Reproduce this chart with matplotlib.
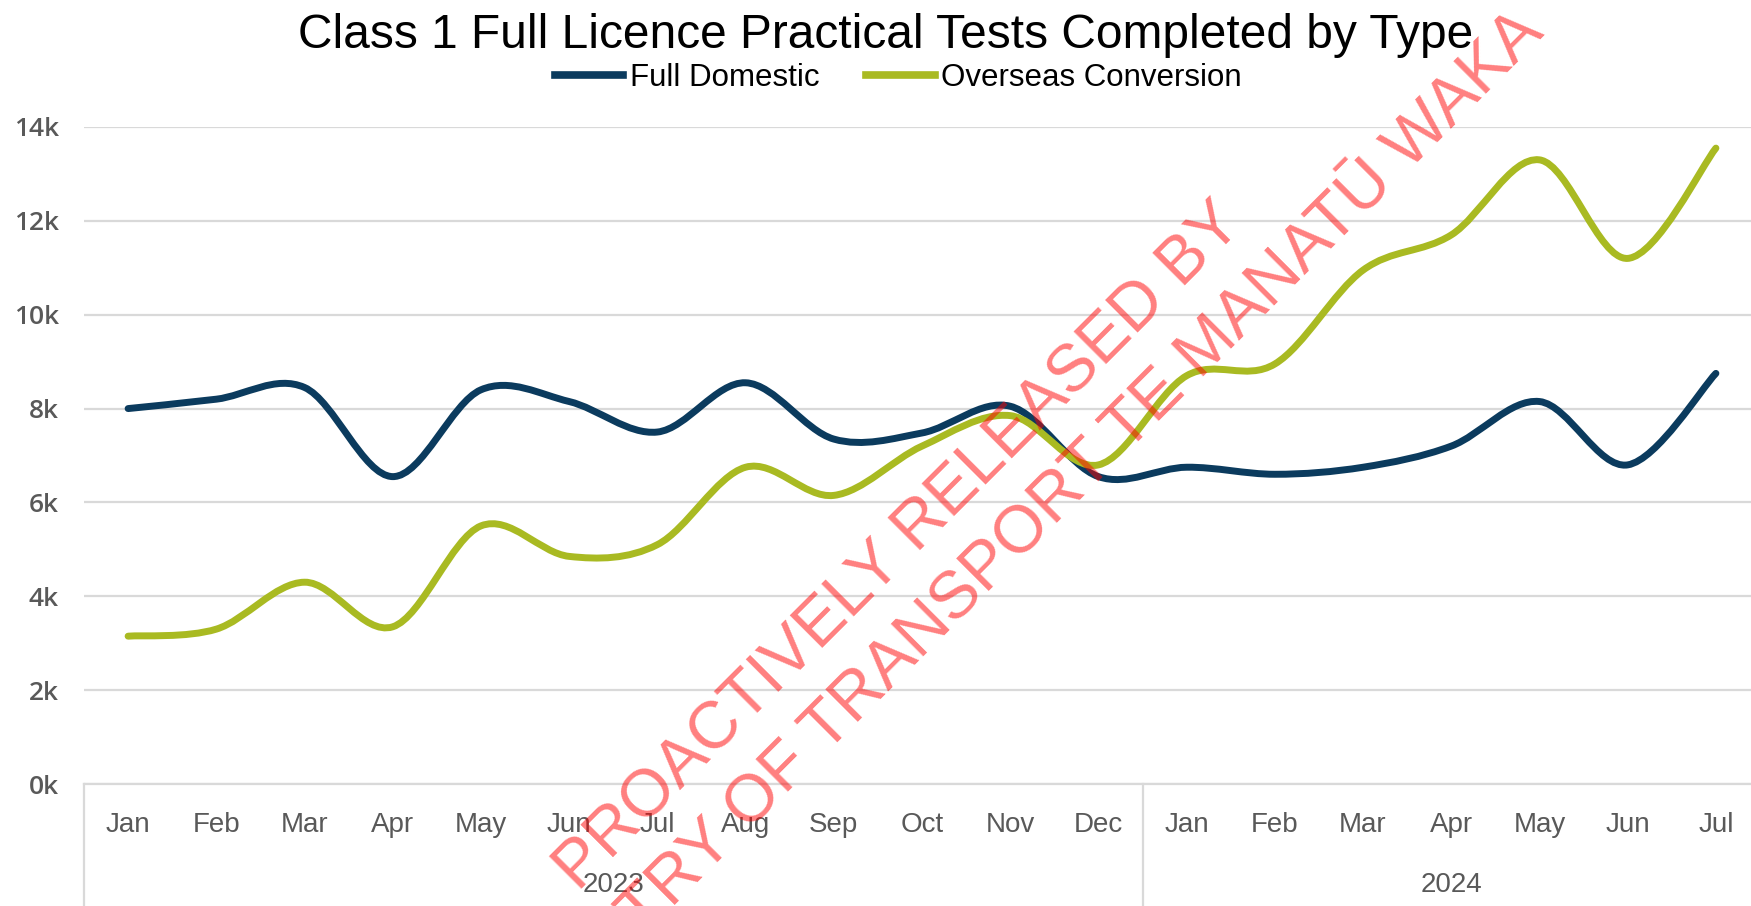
import numpy as np
import matplotlib
matplotlib.use("Agg")
import matplotlib.pyplot as plt
from matplotlib.path import Path
from matplotlib.patches import PathPatch
from matplotlib.lines import Line2D
import matplotlib.transforms as mtransforms

months = ["Jan", "Feb", "Mar", "Apr", "May", "Jun", "Jul", "Aug", "Sep", "Oct", "Nov", "Dec",
          "Jan", "Feb", "Mar", "Apr", "May", "Jun", "Jul"]
years = ["2023", "2024"]
year_spans = [(0, 11), (12, 18)]

full_domestic = [8000, 8200, 8450, 6550, 8400, 8150, 7500, 8550, 7350, 7480, 8050, 6550,
                 6750, 6600, 6750, 7200, 8150, 6800, 8750]
overseas_conversion = [3150, 3300, 4300, 3350, 5500, 4850, 5100, 6750, 6150, 7200, 7850, 6800,
                       8700, 8950, 10950, 11700, 13300, 11200, 13550]

y_ticks = [0, 2000, 4000, 6000, 8000, 10000, 12000, 14000]
y_labels = ["0k", "2k", "4k", "6k", "8k", "10k", "12k", "14k"]

NAVY = "#0b3b5e"
LIME = "#a9ba22"
GREY_TXT = "#595959"
GRID = "#d9d9d9"


def smooth_path(x, y):
    # Excel-style smoothed line: cubic Bezier through every data point
    pts = np.column_stack([x, y]).astype(float)
    n = len(pts)
    verts = [pts[0]]
    codes = [Path.MOVETO]
    for i in range(n - 1):
        p0 = pts[max(i - 1, 0)]
        p1 = pts[i]
        p2 = pts[i + 1]
        p3 = pts[min(i + 2, n - 1)]
        c1 = p1 + (p2 - p0) / 6.0
        c2 = p2 - (p3 - p1) / 6.0
        verts += [c1, c2, p2]
        codes += [Path.CURVE4] * 3
    return Path(verts, codes)


fig = plt.figure(figsize=(17.51, 9.06), dpi=100)
ax = fig.add_axes([84 / 1751, 1 - 784 / 906, 1676 / 1751, 657 / 906])

x = np.arange(len(months))
for vals, col in [(full_domestic, NAVY), (overseas_conversion, LIME)]:
    patch = PathPatch(smooth_path(x, vals), facecolor="none", edgecolor=col,
                      lw=5, capstyle="round", joinstyle="round", zorder=3)
    ax.add_patch(patch)

ax.set_xlim(-0.5, len(months) - 0.5)
ax.set_ylim(0, 14000)
ax.set_yticks(y_ticks)
ax.set_yticklabels(y_labels, fontfamily="Open Sans", fontsize=19, color=GREY_TXT,
                   fontweight="semibold")
ax.tick_params(axis="y", length=0, pad=18)
ax.set_xticks([])
ax.grid(axis="y", color=GRID, lw=1.6, zorder=0)
ax.set_axisbelow(True)
for s in ["top", "right", "left"]:
    ax.spines[s].set_visible(False)
ax.spines["bottom"].set_color(GRID)
ax.spines["bottom"].set_linewidth(1.6)

# two-level category axis
trans = mtransforms.blended_transform_factory(ax.transData, ax.transAxes)
for i, m in enumerate(months):
    ax.text(i, -0.063, m, transform=trans, ha="center", va="center",
            fontsize=20, color=GREY_TXT, family="Liberation Sans")
for yr, (a, b) in zip(years, year_spans):
    ax.text((a + b) / 2, -0.153, yr, transform=trans, ha="center", va="center",
            fontsize=20, color=GREY_TXT, family="Liberation Sans")
for xb in [-0.5, 11.5, 18.5]:
    ax.plot([xb, xb], [0, -0.2], transform=trans, color=GRID, lw=1.6, clip_on=False)

fig.text(0.506, 1 - 48 / 906, "Class 1 Full Licence Practical Tests Completed by Type",
         ha="center", va="baseline", fontsize=34.5, family="Liberation Sans", color="black")

handles = [Line2D([], [], color=NAVY, lw=5.5), Line2D([], [], color=LIME, lw=5.5)]
fig.legend(handles, ["Full Domestic", "Overseas Conversion"], loc="center",
           bbox_to_anchor=(0.513, 1 - 78 / 906), ncol=2, frameon=False,
           prop={"family": "Liberation Sans", "size": 22.5},
           handlelength=2.2, handletextpad=0.2, columnspacing=1.5)

# watermark
wm = dict(color="red", alpha=0.5, fontsize=48, family="Liberation Sans", rotation=45,
          rotation_mode="anchor", va="baseline", zorder=10)
fig.text(1245 / 1751, 1 - 226 / 906, "PROACTIVELY RELEASED BY", ha="right", **wm)
fig.text(1545 / 1751, 1 - 34 / 906, "MINISTRY OF TRANSPORT TE MANATŪ WAKA", ha="right", **wm)

fig.savefig("out.png", dpi=100)
